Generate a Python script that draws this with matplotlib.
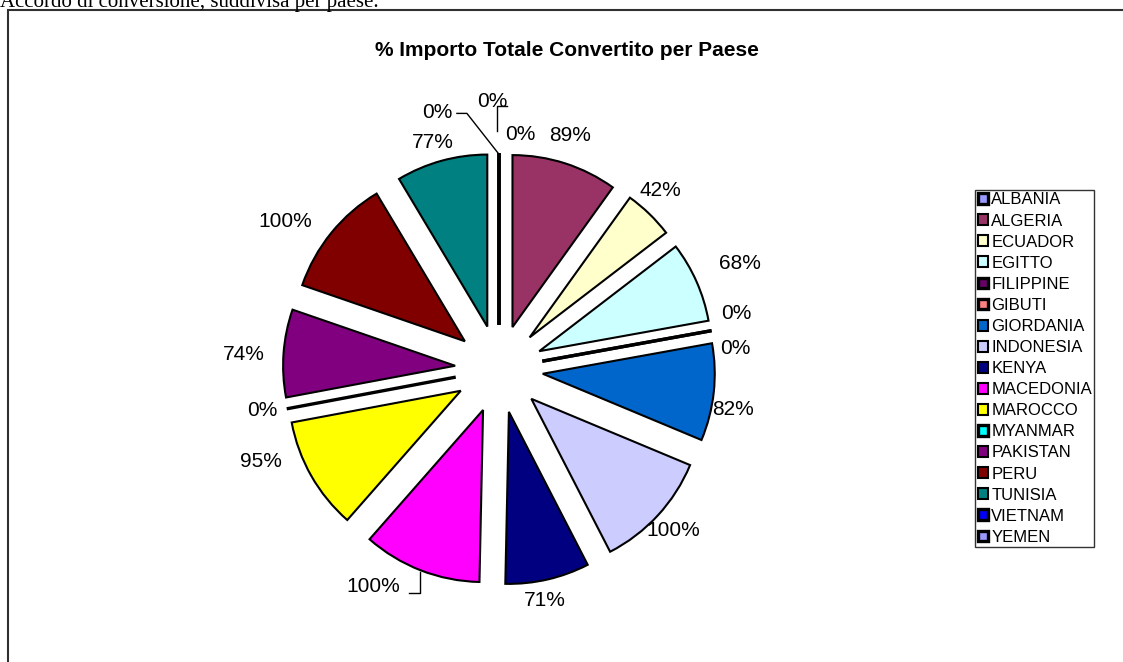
import matplotlib
matplotlib.use("Agg")
import matplotlib.pyplot as plt
import numpy as np

# ---------------- data ----------------
countries = ["ALBANIA", "ALGERIA", "ECUADOR", "EGITTO", "FILIPPINE", "GIBUTI",
             "GIORDANIA", "INDONESIA", "KENYA", "MACEDONIA", "MAROCCO", "MYANMAR",
             "PAKISTAN", "PERU", "TUNISIA", "VIETNAM", "YEMEN"]
values = [0, 89, 42, 68, 0, 0, 82, 100, 71, 100, 95, 0, 74, 100, 77, 0, 0]
colors = ["#9999FF", "#993366", "#FFFFCC", "#CCFFFF", "#660066", "#FF8080",
          "#0066CC", "#CCCCFF", "#000080", "#FF00FF", "#FFFF00", "#00FFFF",
          "#800080", "#800000", "#008080", "#0000FF", "#9999FF"]
title = "% Importo Totale Convertito per Paese"
caption = "Accordo di conversione, suddivisa per paese."

# ---------------- layout / style ----------------
W, H = 1123, 662
fig = plt.figure(figsize=(W / 100, H / 100), dpi=100)
ax = fig.add_axes([0, 0, 1, 1])

CX, CY = 499, H - 369      # pie centre (pixel units, y up)
R = 172                    # radius in pixels
EXP = 44                   # explode distance in pixels
SANS = "Liberation Sans"

wedges, _ = ax.pie(values, colors=colors, startangle=90, counterclock=False,
                   radius=R, center=(CX, CY), explode=[EXP] * len(values),
                   wedgeprops=dict(edgecolor="black", linewidth=1.5),
                   normalize=True)
for w, v in zip(wedges, values):
    if v == 0:
        w.set_linewidth(2.4)

ax.set_xlim(0, W)
ax.set_ylim(0, H)
ax.set_aspect("auto")
ax.axis("off")

# label placement: (angle nudge in deg, distance from centre in px)
label_place = {0: (5.1, 235), 1: (-0.9, 244), 2: (-2, 241), 3: (0.2, 263),
               4: (-2.9, 244), 5: (5.3, 237), 6: (3.7, 238), 7: (0.1, 237),
               8: (1.8, 236), 9: (8.7, 251), 10: (8.4, 255), 11: (0.7, 240),
               12: (-1, 256), 13: (-4.4, 260), 14: (-0.8, 236),
               15: (-13.6, 264), 16: (-1.5, 268)}

def phi_mid(w):
    return 90 - 0.5 * (w.theta1 + w.theta2)   # clockwise from 12 o'clock

def polar(phi, d, cx=CX, cy=CY):
    r = np.deg2rad(phi)
    return cx + d * np.sin(r), cy + d * np.cos(r)

label_pos = {}
for i, (w, v) in enumerate(zip(wedges, values)):
    dphi, d = label_place[i]
    x, y = polar(phi_mid(w) + dphi, d)
    label_pos[i] = (x, y)
    ax.text(x, y, f"{v}%", ha="center", va="center", fontsize=15,
            family=SANS, color="black")

# leader lines
def tip(w, extra=0):
    cx, cy = w.center
    return polar(phi_mid(w), w.r + extra, cx, cy)

lw_lead = 1.0
# YEMEN: horizontal then vertical down
x, y = label_pos[16]
tx, ty = tip(wedges[16], 22)
ax.plot([x + 15, tx - 2, tx - 2], [y - 5, y - 5, ty], color="black", lw=lw_lead)
# VIETNAM: horizontal then diagonal to tip
x, y = label_pos[15]
tx, ty = tip(wedges[15], 0)
ax.plot([x + 20, x + 30, tx - 1], [y - 1, y - 1, ty], color="black", lw=lw_lead)
# MACEDONIA: horizontal then up to arc
x, y = label_pos[9]
tx, ty = tip(wedges[9], 2)
ax.plot([x + 35, tx, tx], [y - 7, y - 7, ty], color="black", lw=lw_lead)

# title and caption
ax.text(567, H - 50, title, ha="center", va="center", fontsize=15,
        fontweight="bold", family=SANS)
ax.text(0, H - 7, caption, ha="left", va="baseline", fontsize=15,
        family="Liberation Serif")

# chart area frame (top & left visible)
ax.plot([8, 8, W + 10], [-10, H - 10, H - 10], color="#303030", lw=1.5,
        clip_on=False, solid_joinstyle="miter")

# legend
leg = ax.legend(wedges, countries, loc="upper left",
                bbox_to_anchor=(975 / W, 1 - 190 / H), bbox_transform=ax.transAxes,
                frameon=True, fancybox=False, borderaxespad=0, borderpad=0.15,
                handlelength=0.62, handleheight=0.62, handletextpad=0.2,
                labelspacing=0.365, prop=dict(family=SANS, size=12))
leg.get_frame().set_edgecolor("black")
leg.get_frame().set_linewidth(1.0)

fig.savefig("out.png", dpi=100)
